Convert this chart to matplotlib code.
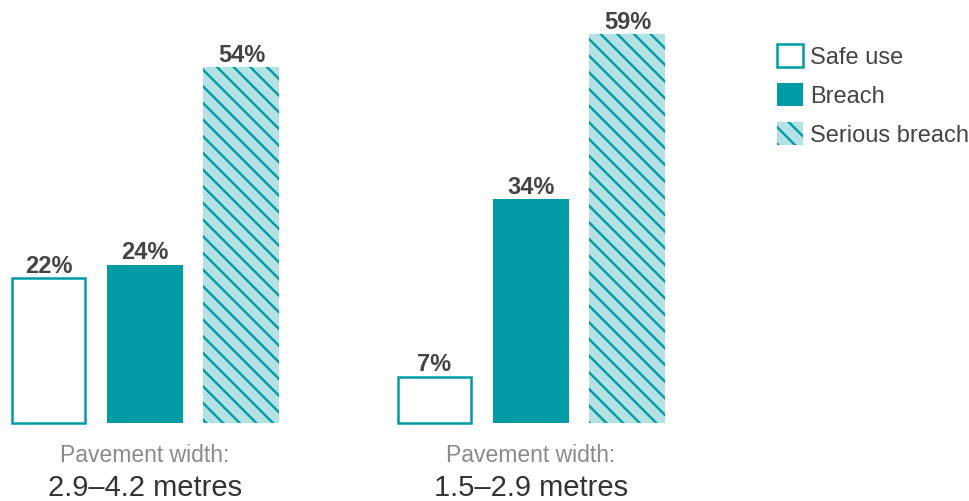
import numpy as np
import matplotlib.pyplot as plt
from matplotlib.patches import Patch

plt.rcParams['font.family'] = ['Liberation Sans', 'DejaVu Sans']
plt.rcParams['hatch.linewidth'] = 1.7
plt.rcParams['hatch.color'] = '#009BA4'

group_top = ['Pavement width:', 'Pavement width:']
group_bottom = ['2.9–4.2 metres', '1.5–2.9 metres']
series = ['Safe use', 'Breach', 'Serious breach']
safe_use = [22, 7]
breach = [24, 34]
serious = [54, 59]

teal = '#009BA4'
light = '#B3E1E4'

fig = plt.figure(figsize=(9.7, 5.02), dpi=100)
ax = fig.add_axes([0, 0, 1, 1])

centers = np.array([145, 531])
step = 96.5
width = 76

b1 = ax.bar(centers - step, safe_use, width - 3, color='white', edgecolor=teal, linewidth=1.8)
b2 = ax.bar(centers, breach, width, color=teal, edgecolor=teal, linewidth=0)
b3 = ax.bar(centers + step, serious, width, color=light, edgecolor=teal, linewidth=0, hatch='\\\\')

for bars in (b1, b2, b3):
    ax.bar_label(bars, labels=[f'{v.get_height():.0f}%' for v in bars], padding=1,
                 fontsize=17, fontweight='bold', color='#444444')

# y scale: baseline at 424px from top, 6.59 px per %
ppu = 6.59
ax.set_ylim(-78 / ppu, (502 - 78) / ppu)
ax.set_xlim(0, 970)
ax.axis('off')

for c, t, b in zip(centers, group_top, group_bottom):
    ax.text(c, (424 - 462) / ppu, t, ha='center', va='baseline', fontsize=16.5, color='#8a8a8a')
    ax.text(c, (424 - 496) / ppu, b, ha='center', va='baseline', fontsize=21, color='#333333')

handles = [Patch(facecolor='white', edgecolor=teal, linewidth=1.8),
           Patch(facecolor=teal, edgecolor=teal, linewidth=0),
           Patch(facecolor=light, edgecolor=teal, linewidth=0, hatch='\\\\')]
leg = ax.legend(handles, series, loc='upper left', bbox_to_anchor=(777 / 970, 1 - 45 / 502),
                frameon=False, fontsize=17, handlelength=1.1, handleheight=1.1,
                labelspacing=0.62, handletextpad=0.3, borderaxespad=0, borderpad=0)
for t in leg.get_texts():
    t.set_color('#444444')

fig.savefig('out.png', dpi=100)
